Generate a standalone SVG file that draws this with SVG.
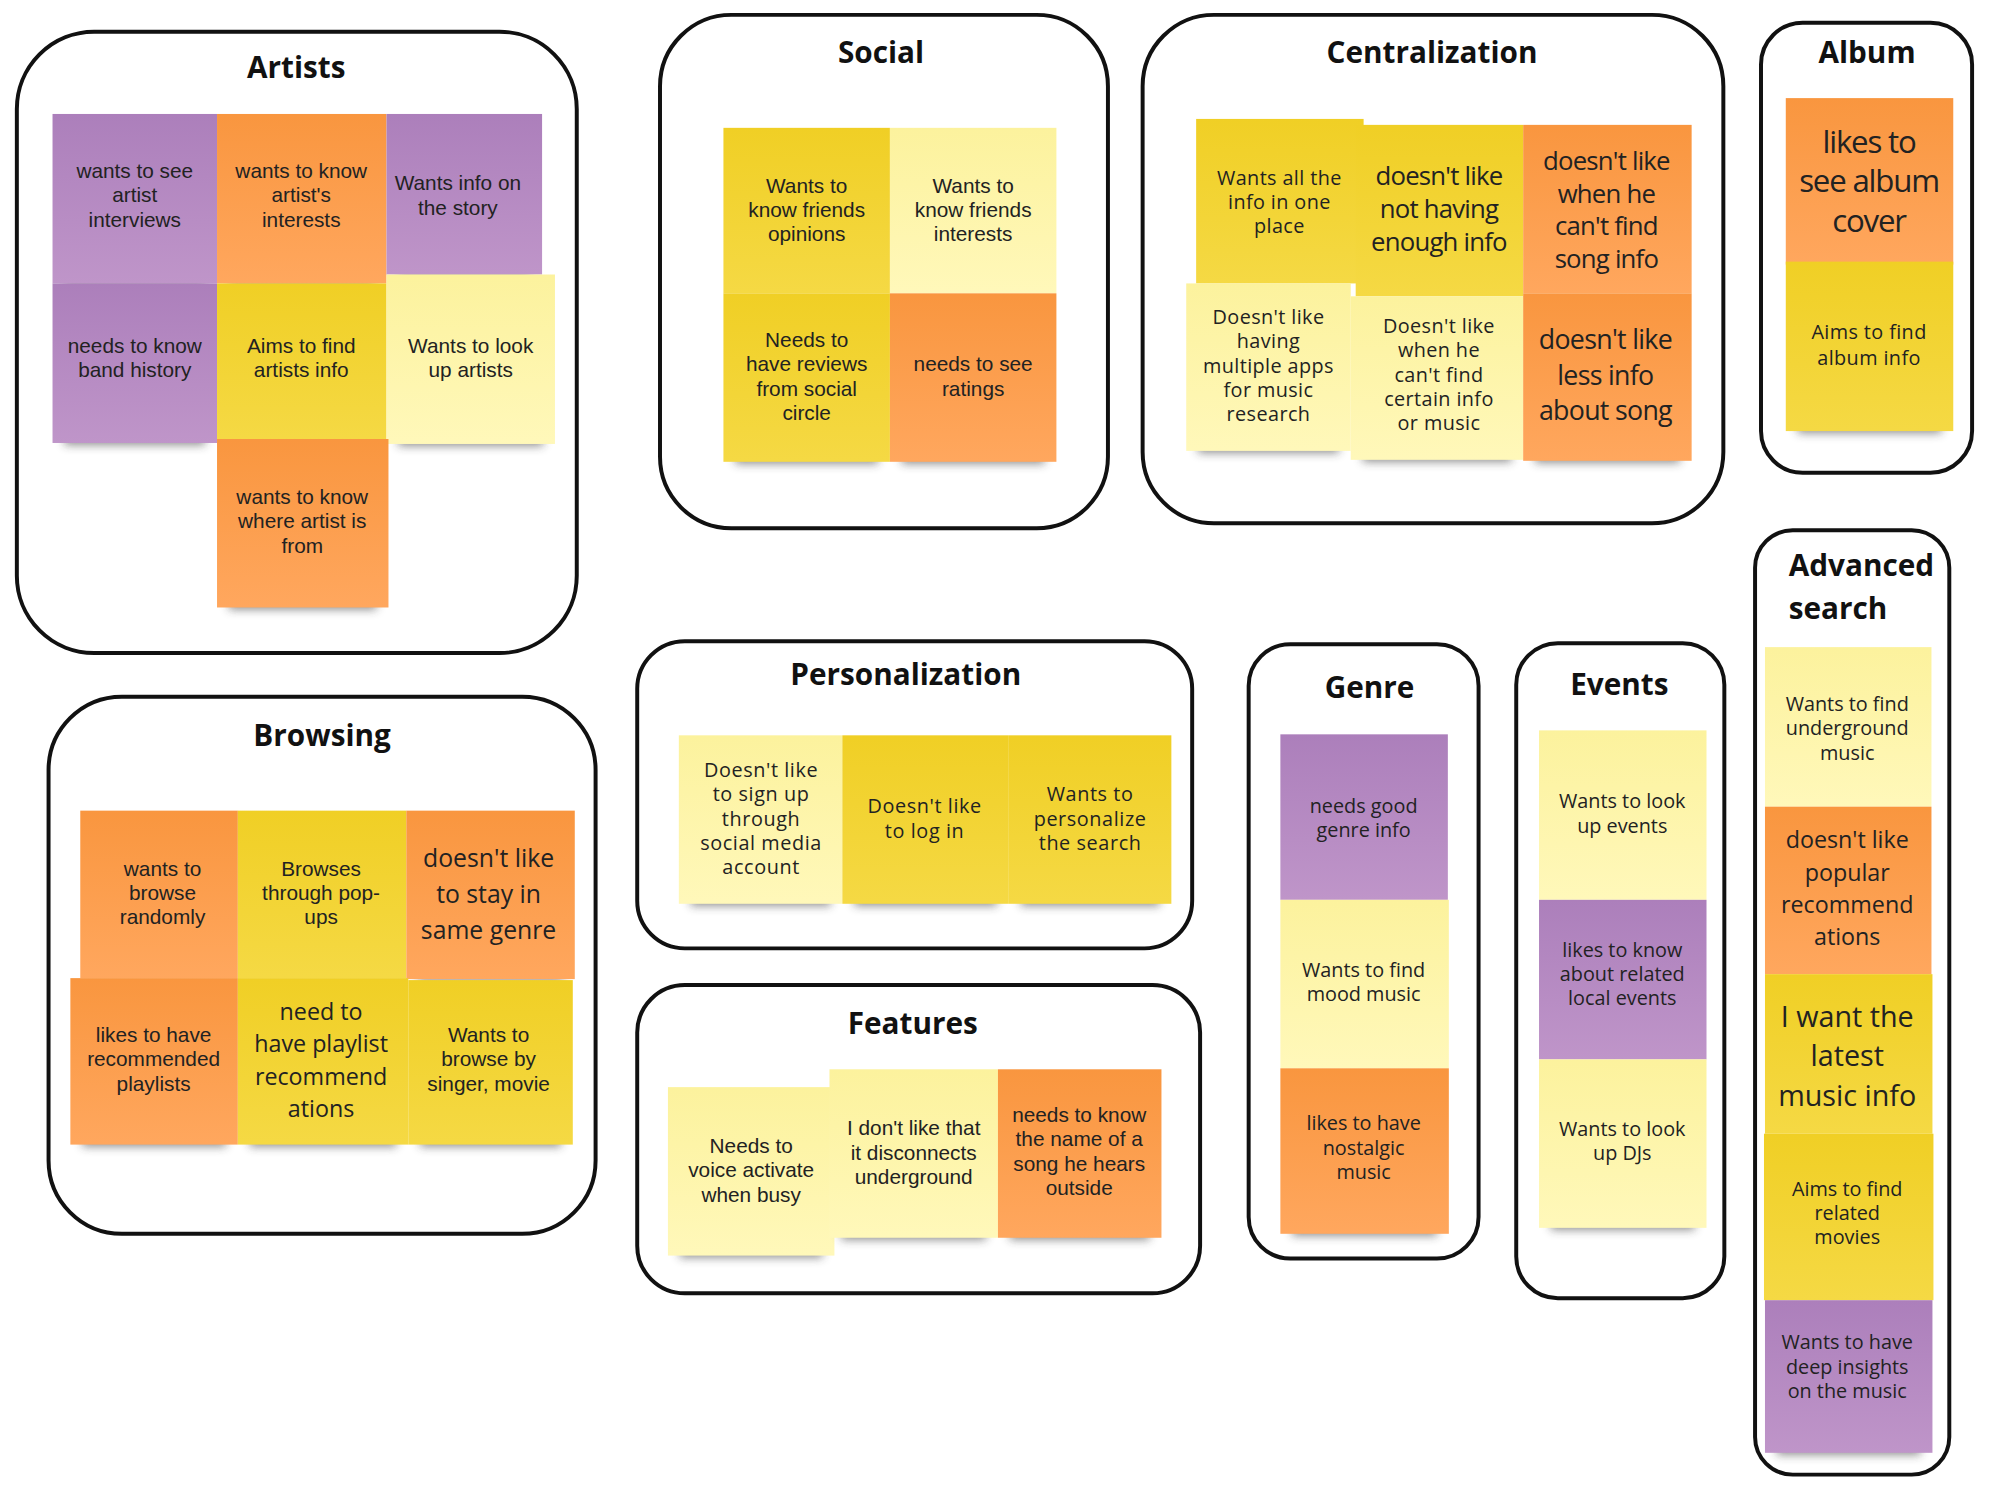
<svg xmlns="http://www.w3.org/2000/svg" width="2000" height="1494" viewBox="0 0 2000 1494">
<defs>
<filter id="blur" x="-20%" y="-200%" width="140%" height="500%"><feGaussianBlur stdDeviation="5"/></filter>
<linearGradient id="gP" x1="0" y1="0" x2="0" y2="1"><stop offset="0" stop-color="#AC7FBB"/><stop offset="1" stop-color="#BF95C9"/></linearGradient>
<linearGradient id="gO" x1="0" y1="0" x2="0" y2="1"><stop offset="0" stop-color="#F9963F"/><stop offset="1" stop-color="#FFA75E"/></linearGradient>
<linearGradient id="gY" x1="0" y1="0" x2="0" y2="1"><stop offset="0" stop-color="#F0CF25"/><stop offset="1" stop-color="#F5D944"/></linearGradient>
<linearGradient id="gL" x1="0" y1="0" x2="0" y2="1"><stop offset="0" stop-color="#FCF29D"/><stop offset="1" stop-color="#FFF8BA"/></linearGradient>
</defs>
<style>
.box{fill:#fff;stroke:#111;stroke-width:4}
.title{font-family:"Open Sans",sans-serif;font-weight:700;font-size:30px;fill:#111;text-anchor:middle;dominant-baseline:central}
.sh{fill:#333;opacity:.55;filter:url(#blur)}
.P{fill:url(#gP)}.O{fill:url(#gO)}.Y{fill:url(#gY)}.L{fill:url(#gL)}
.t{font-family:"Liberation Sans",Arial,sans-serif;font-size:21px;fill:#222;text-anchor:middle;dominant-baseline:central}
.o{font-family:"Open Sans",sans-serif;font-size:20px;fill:#222;text-anchor:middle;dominant-baseline:central}
.p{font-family:"Open Sans",sans-serif;font-size:20px;letter-spacing:.6px;fill:#222;text-anchor:middle;dominant-baseline:central}
.c{font-family:"Open Sans",sans-serif;font-size:26px;letter-spacing:-.8px;fill:#222;text-anchor:middle;dominant-baseline:central}
.cs{font-family:"Open Sans",sans-serif;font-size:20px;letter-spacing:.4px;fill:#222;text-anchor:middle;dominant-baseline:central}
</style>
<rect width="2000" height="1494" fill="#fff"/>
<g id="connectors"/>
<g transform="scale(0.991)">

<!-- Artists -->
<g id="cluster-artists">
<rect class="box" x="17" y="32" width="565" height="627" rx="78"/>
<text class="title" x="299" y="67">Artists</text>
</g>
<g id="a1"><rect class="sh" x="65" y="272" width="142" height="16"/><rect class="P" x="53" y="115" width="166" height="171"/><text class="t"><tspan x="136" y="171.5">wants to see</tspan><tspan x="136" y="196">artist</tspan><tspan x="136" y="220.5">interviews</tspan></text></g>
<g id="a2"><rect class="sh" x="231" y="272" width="147" height="16"/><rect class="O" x="219" y="115" width="171" height="171"/><text class="t"><tspan x="304" y="171.5">wants to know</tspan><tspan x="304" y="196">artist's</tspan><tspan x="304" y="220.5">interests</tspan></text></g>
<g id="a3"><rect class="sh" x="402" y="263" width="133" height="16"/><rect class="P" x="390" y="115" width="157" height="162"/><text class="t"><tspan x="462" y="184">Wants info on</tspan><tspan x="462" y="208.5">the story</tspan></text></g>
<g id="a4"><rect class="sh" x="65" y="433" width="142" height="16"/><rect class="P" x="53" y="286" width="166" height="161"/><text class="t"><tspan x="136" y="348">needs to know</tspan><tspan x="136" y="372.5">band history</tspan></text></g>
<g id="a5"><rect class="Y" x="219" y="286" width="171" height="157"/><text class="t"><tspan x="304" y="348">Aims to find</tspan><tspan x="304" y="372.5">artists info</tspan></text></g>
<g id="a6"><rect class="sh" x="402" y="434" width="146" height="16"/><rect class="L" x="390" y="277" width="170" height="171"/><text class="t"><tspan x="475" y="348">Wants to look</tspan><tspan x="475" y="372.5">up artists</tspan></text></g>
<g id="a7"><rect class="sh" x="231" y="599" width="149" height="16"/><rect class="O" x="219" y="443" width="173" height="170"/><text class="t"><tspan x="305" y="500.5">wants to know</tspan><tspan x="305" y="525">where artist is</tspan><tspan x="305" y="549.5">from</tspan></text></g>

<!-- Social -->
<g id="cluster-social">
<rect class="box" x="666" y="15" width="452" height="518" rx="72"/>
<text class="title" x="889" y="52">Social</text>
</g>
<g id="s1"><rect class="Y" x="730" y="129" width="168" height="167"/><text class="t"><tspan x="814" y="186.5">Wants to</tspan><tspan x="814" y="211">know friends</tspan><tspan x="814" y="235.5">opinions</tspan></text></g>
<g id="s2"><rect class="L" x="898" y="129" width="168" height="167"/><text class="t"><tspan x="982" y="186.5">Wants to</tspan><tspan x="982" y="211">know friends</tspan><tspan x="982" y="235.5">interests</tspan></text></g>
<g id="s3"><rect class="sh" x="742" y="452" width="144" height="16"/><rect class="Y" x="730" y="296" width="168" height="170"/><text class="t"><tspan x="814" y="342.25">Needs to</tspan><tspan x="814" y="366.75">have reviews</tspan><tspan x="814" y="391.25">from social</tspan><tspan x="814" y="415.75">circle</tspan></text></g>
<g id="s4"><rect class="sh" x="910" y="452" width="144" height="16"/><rect class="O" x="898" y="296" width="168" height="170"/><text class="t"><tspan x="982" y="366.75">needs to see</tspan><tspan x="982" y="391.25">ratings</tspan></text></g>

<!-- Centralization -->
<g id="cluster-centralization">
<rect class="box" x="1153" y="15" width="586" height="513" rx="72"/>
<text class="title" x="1445" y="52">Centralization</text>
</g>
<g id="c1"><rect class="Y" x="1207" y="120" width="169" height="166"/><text class="cs"><tspan x="1291" y="178.5">Wants all the</tspan><tspan x="1291" y="203">info in one</tspan><tspan x="1291" y="227.5">place</tspan></text></g>
<g id="c2"><rect class="Y" x="1368" y="126" width="169" height="173"/><text class="c"><tspan x="1452" y="177">doesn't like</tspan><tspan x="1452" y="210">not having</tspan><tspan x="1452" y="243">enough info</tspan></text></g>
<g id="c3"><rect class="O" x="1537" y="126" width="170" height="170"/><text class="c"><tspan x="1621" y="161.5">doesn't like</tspan><tspan x="1621" y="194.5">when he</tspan><tspan x="1621" y="227.5">can't find</tspan><tspan x="1621" y="260.5">song info</tspan></text></g>
<g id="c4"><rect class="sh" x="1209" y="441" width="142" height="16"/><rect class="L" x="1197" y="286" width="166" height="169"/><text class="cs"><tspan x="1280" y="319">Doesn't like</tspan><tspan x="1280" y="343.5">having</tspan><tspan x="1280" y="368">multiple apps</tspan><tspan x="1280" y="392.5">for music</tspan><tspan x="1280" y="417">research</tspan></text></g>
<g id="c5"><rect class="sh" x="1375" y="450" width="150" height="16"/><rect class="L" x="1363" y="299" width="174" height="165"/><text class="cs"><tspan x="1452" y="328">Doesn't like</tspan><tspan x="1452" y="352.5">when he</tspan><tspan x="1452" y="377">can't find</tspan><tspan x="1452" y="401.5">certain info</tspan><tspan x="1452" y="426">or music</tspan></text></g>
<g id="c6"><rect class="sh" x="1549" y="451" width="146" height="16"/><rect class="O" x="1537" y="296" width="170" height="169"/><text class="c" style="font-size:27px;letter-spacing:-.7px"><tspan x="1620" y="341.5">doesn't like</tspan><tspan x="1620" y="377">less info</tspan><tspan x="1620" y="412.5">about song</tspan></text></g>

<!-- Album -->
<g id="cluster-album">
<rect class="box" x="1777" y="23" width="213" height="454" rx="42"/>
<text class="title" x="1884" y="52">Album</text>
</g>
<g id="b1"><rect class="O" x="1802" y="99" width="169" height="168"/><text class="c" style="font-size:31.5px;letter-spacing:-1.2px"><tspan x="1886" y="142">likes to</tspan><tspan x="1886" y="182">see album</tspan><tspan x="1886" y="222">cover</tspan></text></g>
<g id="b2"><rect class="sh" x="1814" y="421" width="145" height="16"/><rect class="Y" x="1802" y="264" width="169" height="171"/><text class="cs"><tspan x="1886" y="334">Aims to find</tspan><tspan x="1886" y="360">album info</tspan></text></g>

<!-- Advanced search -->
<g id="cluster-advanced-search">
<rect class="box" x="1771" y="535" width="196" height="953" rx="38"/>
<text class="title" style="text-anchor:start"><tspan x="1805" y="569">Advanced</tspan><tspan x="1805" y="613">search</tspan></text>
</g>
<g id="v1"><rect class="L" x="1781" y="653" width="168" height="161"/><text class="o"><tspan x="1864" y="709.5">Wants to find</tspan><tspan x="1864" y="734">underground</tspan><tspan x="1864" y="758.5">music</tspan></text></g>
<g id="v2"><rect class="O" x="1781" y="814" width="168" height="169"/><text class="o" style="font-size:23.5px"><tspan x="1864" y="847">doesn't like</tspan><tspan x="1864" y="879.7">popular</tspan><tspan x="1864" y="912.3">recommend</tspan><tspan x="1864" y="945">ations</tspan></text></g>
<g id="v3"><rect class="Y" x="1781" y="983" width="169" height="161"/><text class="o" style="font-size:29px"><tspan x="1864" y="1024">I want the</tspan><tspan x="1864" y="1064">latest</tspan><tspan x="1864" y="1104">music info</tspan></text></g>
<g id="v4"><rect class="Y" x="1780" y="1144" width="171" height="168"/><text class="o"><tspan x="1864" y="1198.5">Aims to find</tspan><tspan x="1864" y="1223">related</tspan><tspan x="1864" y="1247.5">movies</tspan></text></g>
<g id="v5"><rect class="sh" x="1793" y="1452" width="145" height="16"/><rect class="P" x="1781" y="1312" width="169" height="154"/><text class="o"><tspan x="1864" y="1353.5">Wants to have</tspan><tspan x="1864" y="1378">deep insights</tspan><tspan x="1864" y="1402.5">on the music</tspan></text></g>

<!-- Browsing -->
<g id="cluster-browsing">
<rect class="box" x="49" y="703" width="552" height="542" rx="74"/>
<text class="title" x="325" y="741">Browsing</text>
</g>
<g id="w1"><rect class="O" x="81" y="818" width="159" height="169"/><text class="t"><tspan x="164" y="875.5">wants to</tspan><tspan x="164" y="900">browse</tspan><tspan x="164" y="924.5">randomly</tspan></text></g>
<g id="w2"><rect class="Y" x="240" y="818" width="170" height="169"/><text class="t"><tspan x="324" y="875.5">Browses</tspan><tspan x="324" y="900">through pop-</tspan><tspan x="324" y="924.5">ups</tspan></text></g>
<g id="w3"><rect class="sh" x="422" y="974" width="146" height="16"/><rect class="O" x="410" y="818" width="170" height="170"/><text class="o" style="font-size:25px"><tspan x="493" y="865">doesn't like</tspan><tspan x="493" y="901">to stay in</tspan><tspan x="493" y="937">same genre</tspan></text></g>
<g id="w4"><rect class="sh" x="83" y="1141" width="145" height="16"/><rect class="O" x="71" y="987" width="169" height="168"/><text class="t"><tspan x="155" y="1043.5">likes to have</tspan><tspan x="155" y="1068">recommended</tspan><tspan x="155" y="1092.5">playlists</tspan></text></g>
<g id="w5"><rect class="sh" x="252" y="1141" width="148" height="16"/><rect class="Y" x="240" y="987" width="172" height="168"/><text class="o" style="font-size:23.5px"><tspan x="324" y="1020">need to</tspan><tspan x="324" y="1052.6">have playlist</tspan><tspan x="324" y="1085.3">recommend</tspan><tspan x="324" y="1118">ations</tspan></text></g>
<g id="w6"><rect class="sh" x="424" y="1141" width="142" height="16"/><rect class="Y" x="412" y="989" width="166" height="166"/><text class="t"><tspan x="493" y="1043.5">Wants to</tspan><tspan x="493" y="1068">browse by</tspan><tspan x="493" y="1092.5">singer, movie</tspan></text></g>

<!-- Personalization -->
<g id="cluster-personalization">
<rect class="box" x="643" y="647" width="560" height="310" rx="48"/>
<text class="title" x="914" y="680">Personalization</text>
</g>
<g id="p1"><rect class="sh" x="697" y="898" width="141" height="16"/><rect class="L" x="685" y="742" width="165" height="170"/><text class="p"><tspan x="768" y="776">Doesn't like</tspan><tspan x="768" y="800.5">to sign up</tspan><tspan x="768" y="825">through</tspan><tspan x="768" y="849.5">social media</tspan><tspan x="768" y="874">account</tspan></text></g>
<g id="p2"><rect class="sh" x="862" y="898" width="144" height="16"/><rect class="Y" x="850" y="742" width="168" height="170"/><text class="p"><tspan x="933" y="812.75">Doesn't like</tspan><tspan x="933" y="837.25">to log in</tspan></text></g>
<g id="p3"><rect class="sh" x="1030" y="898" width="140" height="16"/><rect class="Y" x="1018" y="742" width="164" height="170"/><text class="p"><tspan x="1100" y="800.5">Wants to</tspan><tspan x="1100" y="825">personalize</tspan><tspan x="1100" y="849.5">the search</tspan></text></g>

<!-- Features -->
<g id="cluster-features">
<rect class="box" x="643" y="994" width="568" height="311" rx="48"/>
<text class="title" x="921" y="1032">Features</text>
</g>
<g id="f1"><rect class="sh" x="686" y="1253" width="144" height="16"/><rect class="L" x="674" y="1097" width="168" height="170"/><text class="t"><tspan x="758" y="1155.5">Needs to</tspan><tspan x="758" y="1180">voice activate</tspan><tspan x="758" y="1204.5">when busy</tspan></text></g>
<g id="f2"><rect class="sh" x="849" y="1235" width="146" height="16"/><rect class="L" x="837" y="1079" width="170" height="170"/><text class="t"><tspan x="922" y="1137.5">I don't like that</tspan><tspan x="922" y="1162">it disconnects</tspan><tspan x="922" y="1186.5">underground</tspan></text></g>
<g id="f3"><rect class="sh" x="1019" y="1235" width="141" height="16"/><rect class="O" x="1007" y="1079" width="165" height="170"/><text class="t"><tspan x="1089" y="1124.25">needs to know</tspan><tspan x="1089" y="1148.75">the name of a</tspan><tspan x="1089" y="1173.25">song he hears</tspan><tspan x="1089" y="1197.75">outside</tspan></text></g>

<!-- Genre -->
<g id="cluster-genre">
<rect class="box" x="1260" y="650" width="232" height="620" rx="42"/>
<text class="title" x="1382" y="693">Genre</text>
</g>
<g id="g1"><rect class="P" x="1292" y="741" width="169" height="167"/><text class="o"><tspan x="1376" y="812">needs good</tspan><tspan x="1376" y="836.5">genre info</tspan></text></g>
<g id="g2"><rect class="L" x="1292" y="908" width="170" height="170"/><text class="o"><tspan x="1376" y="977.75">Wants to find</tspan><tspan x="1376" y="1002.25">mood music</tspan></text></g>
<g id="g3"><rect class="sh" x="1304" y="1231" width="146" height="16"/><rect class="O" x="1292" y="1078" width="170" height="167"/><text class="o"><tspan x="1376" y="1132.5">likes to have</tspan><tspan x="1376" y="1157">nostalgic</tspan><tspan x="1376" y="1181.5">music</tspan></text></g>

<!-- Events -->
<g id="cluster-events">
<rect class="box" x="1530" y="649" width="210" height="661" rx="42"/>
<text class="title" x="1634" y="690">Events</text>
</g>
<g id="e1"><rect class="L" x="1553" y="737" width="169" height="171"/><text class="o"><tspan x="1637" y="807.75">Wants to look</tspan><tspan x="1637" y="832.25">up events</tspan></text></g>
<g id="e2"><rect class="P" x="1553" y="908" width="169" height="161"/><text class="o"><tspan x="1637" y="957.5">likes to know</tspan><tspan x="1637" y="982">about related</tspan><tspan x="1637" y="1006.5">local events</tspan></text></g>
<g id="e3"><rect class="sh" x="1565" y="1225" width="145" height="16"/><rect class="L" x="1553" y="1069" width="169" height="170"/><text class="o"><tspan x="1637" y="1137.75">Wants to look</tspan><tspan x="1637" y="1162.25">up DJs</tspan></text></g>
</g>
</svg>
